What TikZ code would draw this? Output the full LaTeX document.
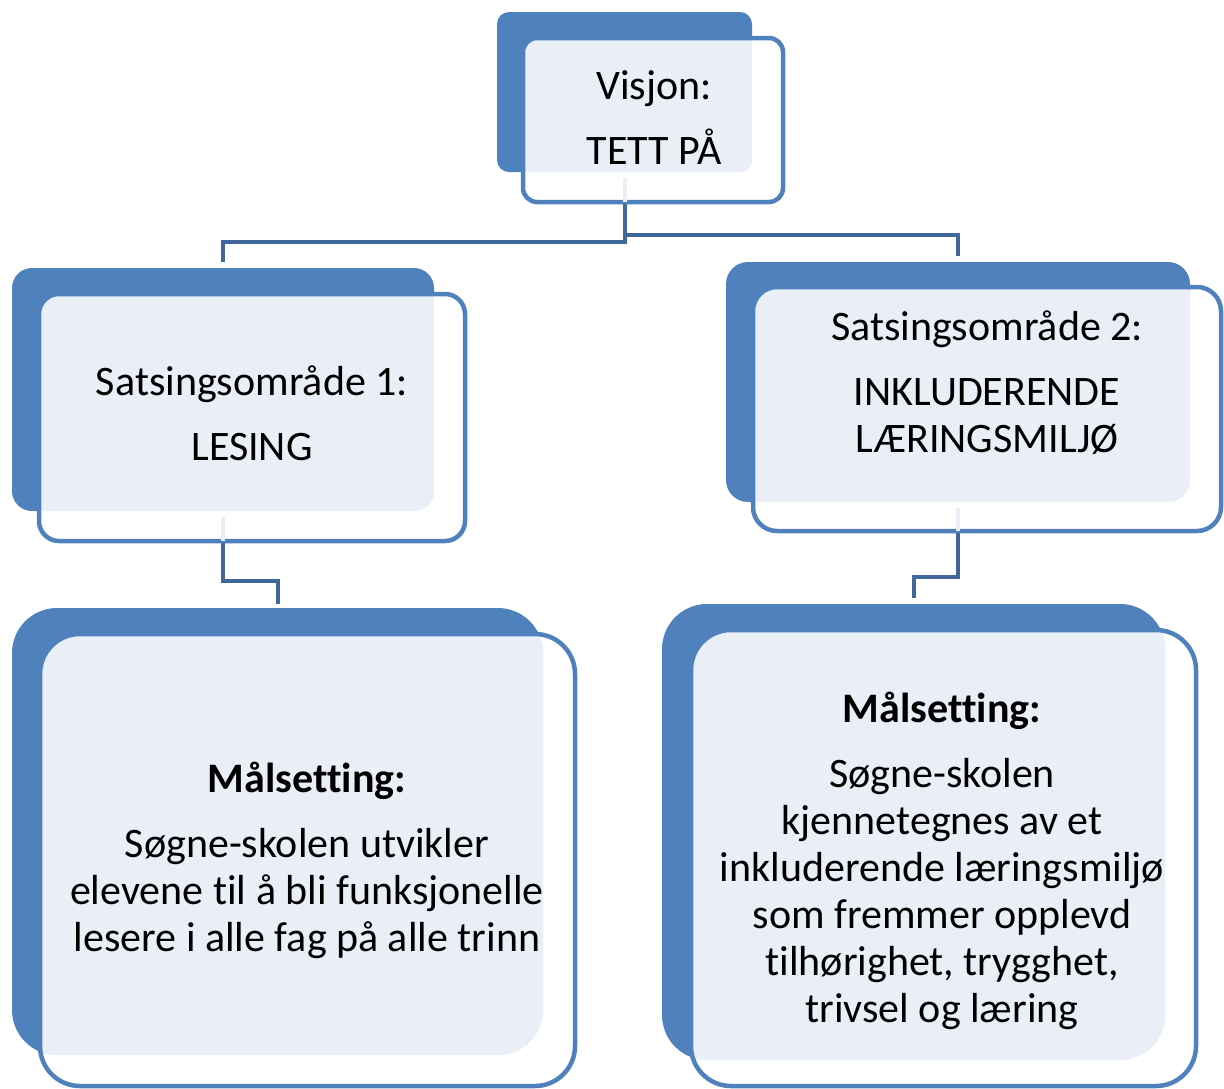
\documentclass[tikz,border=0pt]{standalone}
\usepackage{fontspec}
\setmainfont[Ligatures={NoCommon}]{Carlito}
\usetikzlibrary{positioning, calc}
\definecolor{boxBlue}{RGB}{79,129,189}
\definecolor{boxLight}{RGB}{234,239,247}
\definecolor{lineBlue}{RGB}{64,104,154}
\newcommand{\boxFont}{\fontsize{42}{47}\selectfont}

\begin{document}
\begin{tikzpicture}[x=1pt, y=-1pt,
	back/.style={rectangle, rounded corners=#1, fill=boxBlue, inner sep=0pt},
	frame/.style n args={3}{rectangle, rounded corners=#1, fill=white, draw=boxBlue, line width=4.5pt, inner sep=0pt,
		path picture={\fill[boxLight, rounded corners=#3] (#2.south west) rectangle (#2.north east);}},
	boxText/.style={font=\boxFont, align=center, inner sep=0pt},
	link/.style={draw=lineBlue, line width=4pt},
	faint/.style={draw=boxLight, line width=4pt}]

	\useasboundingbox (0,0) rectangle (1224,1088);

	% back plates
	\node[back=12pt, minimum width=255pt, minimum height=160pt] (visjonBack) at (624.5,92) {};
	\node[back=20pt, minimum width=422pt, minimum height=243pt] (sats1Back) at (223,389.5) {};
	\node[back=22pt, minimum width=464pt, minimum height=240pt] (sats2Back) at (958,382) {};
	\node[back=45pt, minimum width=531pt, minimum height=447pt] (maal1Back) at (277.5,831.5) {};
	\node[back=45pt, minimum width=503pt, minimum height=456pt] (maal2Back) at (913.5,832) {};

	% frames
	\node[frame={14pt}{visjonBack}{12pt}, minimum width=260pt, minimum height=164pt] (visjon) at (653,120) {};
	\node[frame={20pt}{sats1Back}{20pt}, minimum width=426pt, minimum height=247pt] (sats1) at (252,417.5) {};
	\node[frame={24pt}{sats2Back}{22pt}, minimum width=468pt, minimum height=244pt] (sats2) at (987,409) {};
	\node[frame={40pt}{maal1Back}{45pt}, minimum width=535pt, minimum height=452pt] (maal1) at (307.5,860) {};
	\node[frame={40pt}{maal2Back}{45pt}, minimum width=505pt, minimum height=456pt] (maal2) at (943.5,858) {};

	% texts
	\node[boxText] (visjonText) at (654,118) {Visjon:\\[18pt]TETT PÅ};
	\node[boxText] (sats1Text) at (252,413.5) {Satsingsområde 1:\\[18pt]LESING};
	\node[boxText] (sats2Text) at (987,382.5) {Satsingsområde 2:\\[18pt]INKLUDERENDE\\LÆRINGSMILJØ};
	\node[boxText] (maal1Text) at (307,860) {\textbf{Målsetting:}\\[18pt]Søgne-skolen utvikler\\elevene til å bli funksjonelle\\lesere i alle fag på alle trinn};
	\node[boxText] (maal2Text) at (942,860.5) {\textbf{Målsetting:}\\[18pt]Søgne-skolen\\kjennetegnes av et\\inkluderende læringsmiljø\\som fremmer opplevd\\tilhørighet, trygghet,\\trivsel og læring};

	% connectors
	\foreach \name in {visjon, sats1, sats2}
		\draw[faint, shorten <=6pt, shorten >=2pt] (\name Back.south) -- (\name Back.south |- \name.south);
	\draw[link, shorten >=6pt] (visjonBack.south |- visjon.south) -- ++(0,38) -| (sats1Back.north);
	\draw[link, shorten >=6pt] (visjonBack.south |- visjon.south) ++(0,31) -| (sats2Back.north);
	\draw[link, shorten >=4pt] (sats1Back.south |- sats1.south) -- ++(0,38) -| (maal1Back.north);
	\draw[link, shorten >=6pt] (sats2Back.south |- sats2.south) -- ++(0,44) -| (maal2Back.north);

\end{tikzpicture}
\end{document}
